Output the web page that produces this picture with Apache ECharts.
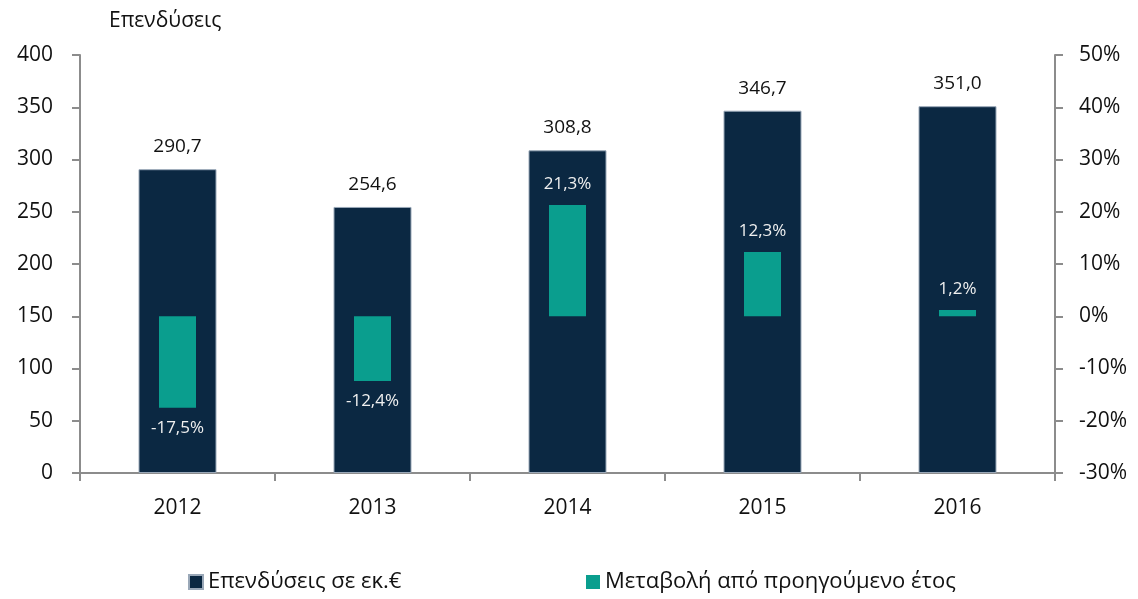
<!DOCTYPE html>
<html>
<head>
<meta charset="utf-8">
<script src="https://cdn.jsdelivr.net/npm/echarts@6/dist/echarts.min.js"></script>
<style>
  html, body { margin: 0; padding: 0; background: #fff; }
  #main { width: 1138px; height: 599px; }
</style>
</head>
<body>
<div id="main"></div>
<script>
var years = ['2012', '2013', '2014', '2015', '2016'];
var invest = [290.7, 254.6, 308.8, 346.7, 351.0];
var change = [-17.5, -12.4, 21.3, 12.3, 1.2];
var leftTicks = [0, 50, 100, 150, 200, 250, 300, 350, 400];
var rightTicks = [-30, -20, -10, 0, 10, 20, 30, 40, 50];

var navy = '#0b2842';
var teal = '#0a9e8e';
var font = '"Open Sans", "Noto Sans", sans-serif';
var axisGray = '#8c8c8c';

function fmt(v, d) {
    return v.toFixed(d).replace('.', ',');
}

var changeData = change.map(function (v) {
    return {
        value: v,
        label: { position: v < 0 ? 'bottom' : 'top' }
    };
});

var myChart = echarts.init(document.getElementById('main'));
var option = {
    animation: false,
    textStyle: { fontFamily: font },
    grid: { left: 80, right: 83, top: 55, bottom: 126 },
    legend: [{
        bottom: 1,
        left: 183,
        itemWidth: 14,
        itemHeight: 14,
        icon: 'rect',
        textStyle: { fontSize: 22, color: '#111', fontFamily: font },
        data: ['Επενδύσεις σε εκ.€']
    }, {
        bottom: 1,
        left: 581,
        itemWidth: 14,
        itemHeight: 14,
        icon: 'rect',
        textStyle: { fontSize: 22, color: '#111', fontFamily: font },
        data: ['Μεταβολή από προηγούμενο έτος']
    }],
    xAxis: [{
        type: 'category',
        data: years,
        axisLine: { lineStyle: { color: axisGray, width: 2 } },
        axisTick: { show: true, length: 8, lineStyle: { color: axisGray, width: 2 } },
        axisLabel: { fontSize: 21, color: '#111', margin: 25 }
    }, {
        type: 'category',
        data: years,
        show: false
    }],
    yAxis: [{
        type: 'value',
        min: 0,
        max: 400,
        interval: 50,
        name: 'Επενδύσεις',
        nameGap: 23,
        nameTextStyle: { fontSize: 21, color: '#111', align: 'left', padding: [0, 0, 0, 29] },
        splitLine: { show: false },
        axisLine: { show: true, lineStyle: { color: axisGray, width: 2 } },
        axisTick: { show: true, length: 8, lineStyle: { color: axisGray, width: 2 } },
        axisLabel: { fontSize: 21, color: '#111', margin: 27 }
    }, {
        type: 'value',
        min: -30,
        max: 50,
        interval: 10,
        position: 'right',
        splitLine: { show: false },
        axisLine: { show: true, lineStyle: { color: axisGray, width: 2 } },
        axisTick: { show: true, length: 8, lineStyle: { color: axisGray, width: 2 } },
        axisLabel: { fontSize: 21, color: '#111', margin: 24, formatter: '{value}%' }
    }],
    series: [{
        name: 'Επενδύσεις σε εκ.€',
        type: 'bar',
        xAxisIndex: 0,
        yAxisIndex: 0,
        data: invest,
        barWidth: 78,
        itemStyle: { color: navy, borderColor: '#9aa8b8', borderWidth: 1 },
        label: {
            show: true,
            position: 'top',
            distance: 13,
            fontSize: 19,
            color: '#111',
            formatter: function (p) { return fmt(p.value, 1); }
        },
        z: 1
    }, {
        name: 'Μεταβολή από προηγούμενο έτος',
        type: 'bar',
        xAxisIndex: 1,
        yAxisIndex: 1,
        data: changeData,
        barWidth: 37,
        itemStyle: { color: teal },
        label: {
            show: true,
            distance: 12,
            fontSize: 17,
            color: '#f0f0f0',
            formatter: function (p) { return fmt(p.value, 1) + '%'; }
        },
        z: 3
    }]
};
myChart.setOption(option);
</script>
</body>
</html>
